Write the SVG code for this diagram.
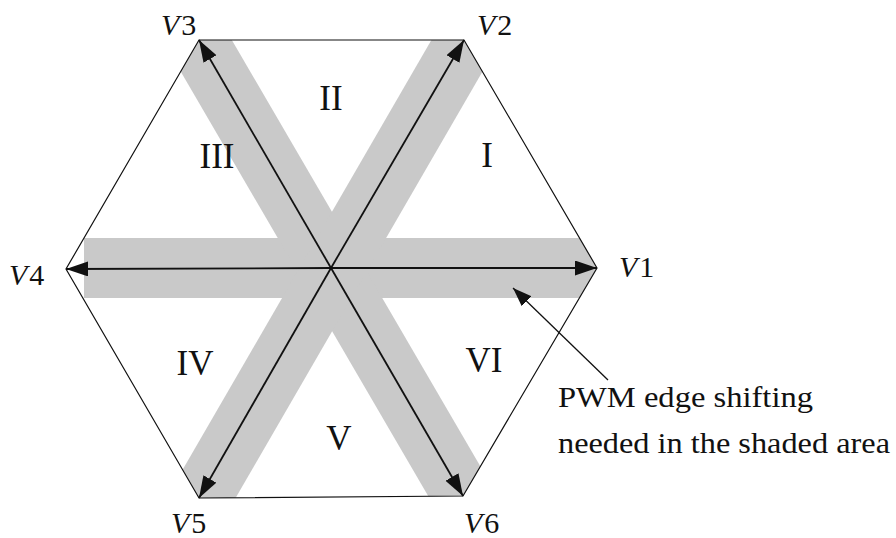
<svg xmlns="http://www.w3.org/2000/svg" width="896" height="538" viewBox="0 0 896 538">
<style>
.lbl{font-family:"Liberation Serif",serif;font-size:30px;fill:#111}
.it{font-style:italic}
.sec{font-family:"Liberation Serif",serif;font-size:35px;fill:#111;text-anchor:middle}
.note{font-family:"Liberation Serif",serif;font-size:30px;fill:#111}
.band{fill:#c9c9c9}
.hex{fill:none;stroke:#111;stroke-width:1.2}
.vec{stroke:#111;stroke-width:1.8;fill:none;marker-end:url(#ah)}
.ptr{stroke:#111;stroke-width:1.3;fill:none;marker-end:url(#ah2)}
</style>
<defs>
<clipPath id="hexclip" clipPathUnits="userSpaceOnUse">
<polygon points="597,268 464,40 199,40 66,269 199,498 463,496"/>
</clipPath>
<marker id="ah" markerUnits="userSpaceOnUse" markerWidth="23" markerHeight="16" refX="22" refY="7.5" orient="auto">
<path d="M0,0 L22,7.5 L0,15 z" fill="#111"/>
</marker>
<marker id="ah2" markerUnits="userSpaceOnUse" markerWidth="20" markerHeight="15" refX="19" refY="7" orient="auto">
<path d="M0,0 L19,7 L0,14 z" fill="#111"/>
</marker>
</defs>
<rect width="896" height="538" fill="#fff"/>
<g id="shading" clip-path="url(#hexclip)">
<polygon class="band" points="84,238 620,238 620,298 84,298"/>
<polygon class="band" points="198,-18 514,524 462,554 146,12"/>
<polygon class="band" points="465,-18 517,12 202,556 150,526"/>
</g>
<g id="hexagon">
<polygon class="hex" points="597,268 464,40 199,40 66,269 199,498 463,496"/>
</g>
<g id="connectors">
<line class="vec" x1="331" y1="268" x2="597" y2="268"/>
<line class="vec" x1="331" y1="268" x2="464" y2="40"/>
<line class="vec" x1="331" y1="268" x2="199" y2="40"/>
<line class="vec" x1="331" y1="268" x2="66" y2="269"/>
<line class="vec" x1="331" y1="268" x2="199" y2="498"/>
<line class="vec" x1="331" y1="268" x2="463" y2="496"/>
<line class="ptr" x1="608" y1="380" x2="513" y2="288"/>
</g>
<g id="V1"><text class="lbl" x="619" y="277"><tspan class="it">V</tspan><tspan dx="2">1</tspan></text></g>
<g id="V2"><text class="lbl" x="477" y="35"><tspan class="it">V</tspan><tspan dx="2">2</tspan></text></g>
<g id="V3"><text class="lbl" x="161" y="35"><tspan class="it">V</tspan><tspan dx="2">3</tspan></text></g>
<g id="V4"><text class="lbl" x="9" y="285"><tspan class="it">V</tspan><tspan dx="2">4</tspan></text></g>
<g id="V5"><text class="lbl" x="171" y="533"><tspan class="it">V</tspan><tspan dx="2">5</tspan></text></g>
<g id="V6"><text class="lbl" x="464" y="533"><tspan class="it">V</tspan><tspan dx="2">6</tspan></text></g>
<g id="sector-I"><text class="sec" x="487" y="167">I</text></g>
<g id="sector-II"><text class="sec" x="331" y="110">II</text></g>
<g id="sector-III"><text class="sec" x="217" y="168">III</text></g>
<g id="sector-IV"><text class="sec" x="195" y="375">IV</text></g>
<g id="sector-V"><text class="sec" x="339" y="450">V</text></g>
<g id="sector-VI"><text class="sec" x="484" y="372">VI</text></g>
<g id="note">
<text class="note" x="558" y="407" textLength="255" lengthAdjust="spacingAndGlyphs">PWM edge shifting</text>
<text class="note" x="558" y="453" textLength="332" lengthAdjust="spacingAndGlyphs">needed in the shaded area</text>
</g>
</svg>
